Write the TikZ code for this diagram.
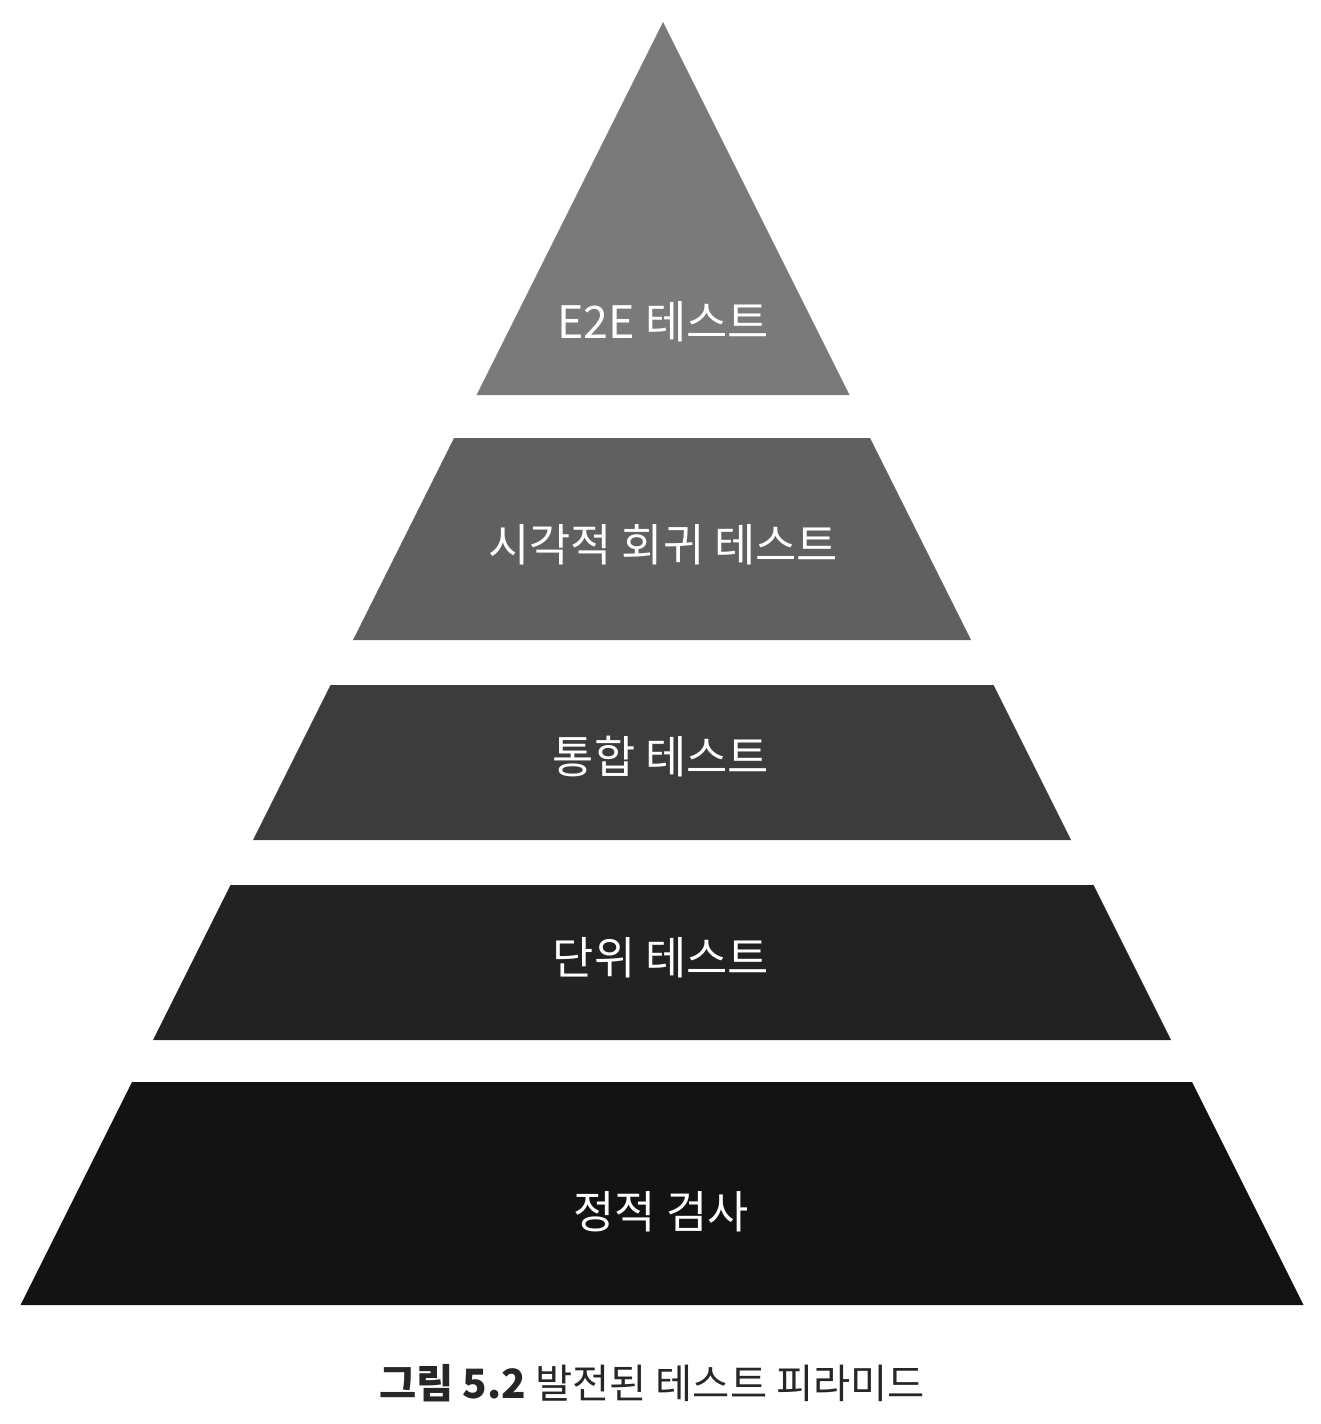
\documentclass[tikz,border=0pt]{standalone}
\usepackage{fontspec}
\newfontfamily\krfont{Noto Sans CJK KR}

\definecolor{tierA}{RGB}{122,122,122}
\definecolor{tierB}{RGB}{96,96,96}
\definecolor{tierC}{RGB}{60,60,60}
\definecolor{tierD}{RGB}{34,34,34}
\definecolor{tierE}{RGB}{19,19,19}

\tikzset{
  tierlabel/.style={text=white, font=\krfont\fontsize{25.5}{30}\selectfont},
  caption/.style={text=black!85, font=\krfont\fontsize{23}{28}\selectfont},
}

\begin{document}
\begin{tikzpicture}[x=0.02cm, y=-0.02cm]
\useasboundingbox (0,0) rectangle (1320,1424);

% top of the pyramid
\fill[tierA] (663,22) -- (476.5,395) -- (849.5,395) -- cycle;

% lower layers: top y / bottom y / colour
\foreach \ytop/\ybot/\col in {438/640/tierB, 685/840/tierC, 885/1040/tierD, 1082/1305/tierE}{
  \fill[\col] ({662-0.5*(\ytop-22)},\ytop) -- ({662+0.5*(\ytop-22)},\ytop)
     -- ({662+0.5*(\ybot-22)},\ybot) -- ({662-0.5*(\ybot-22)},\ybot) -- cycle;
}

\node[tierlabel] (e2e) at (663,322) {E2E 테스트};
\node[tierlabel] (visual) at (663,545) {시각적 회귀 테스트};
\node[tierlabel] (integration) at (661,757) {통합 테스트};
\node[tierlabel] (unit) at (661,958) {단위 테스트};
\node[tierlabel] (static) at (661,1212) {정적 검사};

\node[caption] (title) at (652,1383) {{\bfseries 그림 5.2} 발전된 테스트 피라미드};

\end{tikzpicture}
\end{document}
